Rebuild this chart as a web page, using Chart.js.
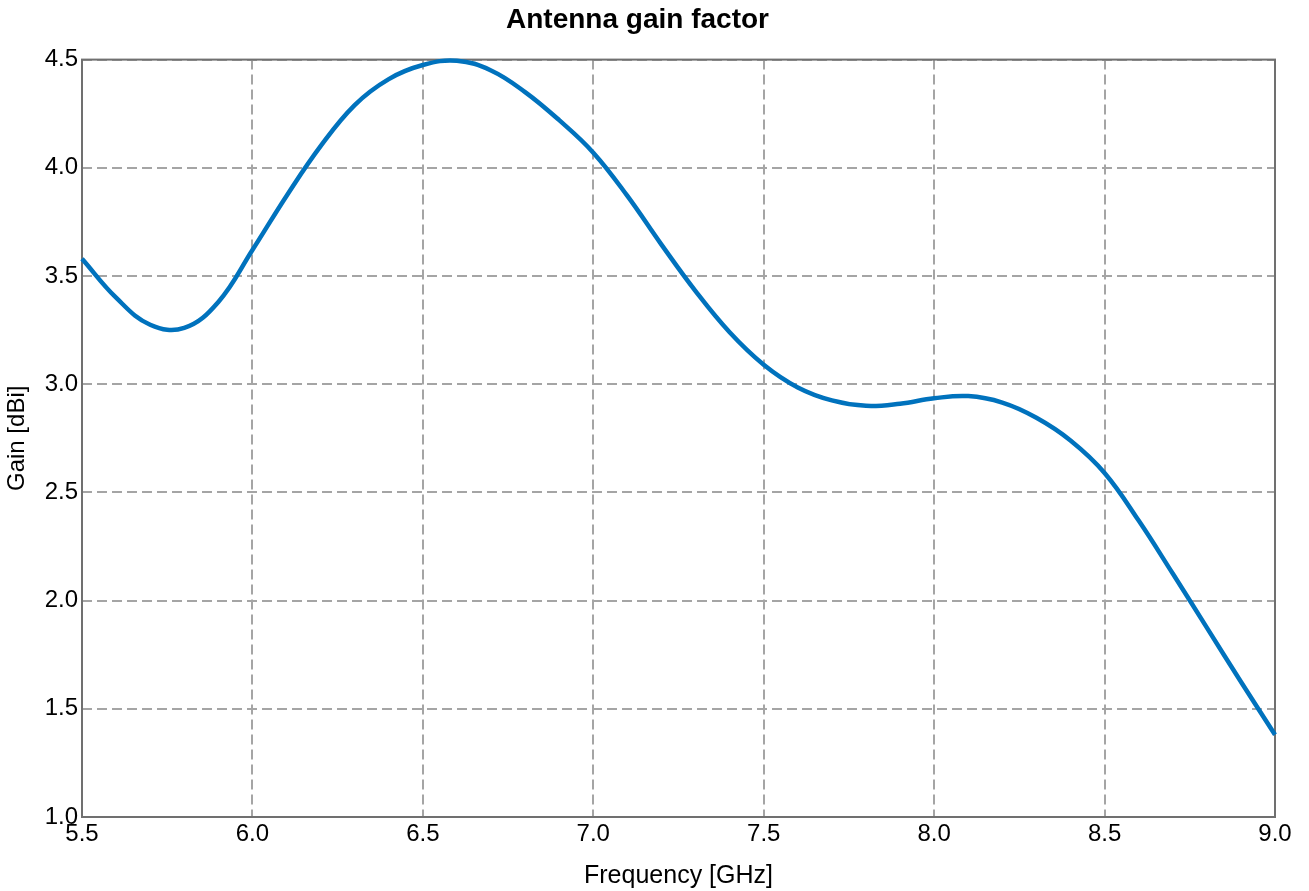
<!DOCTYPE html>
<html>
<head>
<meta charset="utf-8">
<script src="https://cdn.jsdelivr.net/npm/chart.js@4/dist/chart.umd.min.js"></script>
<style>
  html, body { margin: 0; padding: 0; background: #fff; }
  .chart { width: 1309px; height: 891px; }
</style>
</head>
<body>
<div class="chart"><canvas></canvas></div>
<script>
const frequency = [5.5, 5.6, 5.7, 5.8, 5.9, 6.0, 6.1, 6.2, 6.3, 6.4, 6.5, 6.6, 6.7, 6.8, 6.9, 7.0,
  7.1, 7.2, 7.3, 7.4, 7.5, 7.6, 7.7, 7.8, 7.9, 8.0, 8.1, 8.2, 8.3, 8.4, 8.5, 8.6, 8.7, 8.8, 8.9, 9.0];
const gain = [3.58, 3.40, 3.275, 3.26, 3.38, 3.62, 3.87, 4.10, 4.29, 4.41, 4.475, 4.495, 4.45, 4.35, 4.22, 4.07,
  3.87, 3.645, 3.43, 3.24, 3.09, 2.985, 2.925, 2.90, 2.91, 2.935, 2.945, 2.915, 2.845, 2.74, 2.59, 2.37, 2.125, 1.875, 1.625, 1.38];

const colors = {
  line: "rgb(0, 114, 189)",
  grid: "rgba(165, 165, 165, 1)",
  frame: "rgba(112, 112, 112, 1)",
  text: "#000",
};
const fontFamily = "'Liberation Sans', Arial, sans-serif";

// full box around the plot area
const frame = {
  id: "frame",
  beforeDatasetsDraw(chart) {
    const { ctx, chartArea: a } = chart;
    ctx.save();
    ctx.strokeStyle = colors.frame;
    ctx.lineWidth = 2;
    ctx.strokeRect(a.left, a.top, a.right - a.left, a.bottom - a.top);
    ctx.restore();
  },
};

Chart.defaults.color = colors.text;
Chart.defaults.font.family = fontFamily;

const ctx = document.querySelector(".chart canvas").getContext("2d");
new Chart(ctx, {
  type: "line",
  data: {
    datasets: [
      {
        label: "Gain",
        data: frequency.map((f, i) => ({ x: f, y: gain[i] })),
        borderColor: colors.line,
        borderWidth: 4.5,
        pointRadius: 0,
        tension: 0.4,
        fill: false,
        clip: false,
      },
    ],
  },
  options: {
    responsive: true,
    maintainAspectRatio: false,
    animation: false,
    layout: { padding: { left: 0, right: 34, top: 0, bottom: 0 } },
    plugins: {
      legend: { display: false },
      tooltip: { enabled: false },
      title: {
        display: true,
        text: "Antenna gain factor",
        font: { size: 28, weight: "bold" },
        color: colors.text,
        padding: { top: 3, bottom: 23 },
      },
    },
    scales: {
      x: {
        type: "linear",
        min: 5.5,
        max: 9.0,
        afterFit: (s) => { s.height = 74; },
        grid: { color: colors.grid, lineWidth: 2, drawTicks: false },
        border: { display: false, dash: [10, 5] },
        ticks: {
          stepSize: 0.5,
          padding: 3,
          font: { size: 24 },
          callback: (v) => v.toFixed(1),
        },
        title: {
          display: true,
          text: "Frequency [GHz]",
          font: { size: 25 },
          padding: 0,
        },
      },
      y: {
        min: 1.0,
        max: 4.5,
        afterFit: (s) => { s.width = 82; },
        grid: { color: colors.grid, lineWidth: 2, drawTicks: false },
        border: { display: false, dash: [10, 5] },
        ticks: {
          stepSize: 0.5,
          padding: 4,
          font: { size: 24 },
          callback: (v) => v.toFixed(1),
        },
        title: {
          display: true,
          text: "Gain [dBi]",
          font: { size: 24 },
          padding: { top: 3, bottom: 0 },
        },
      },
    },
  },
  plugins: [frame],
});
</script>
</body>
</html>
